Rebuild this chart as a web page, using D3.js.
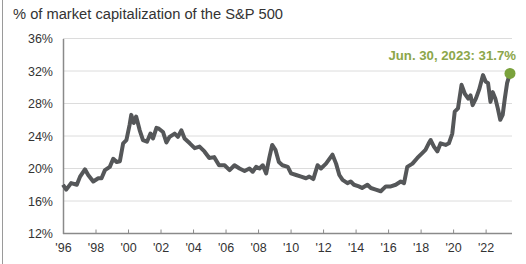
<!DOCTYPE html>
<html>
<head>
<meta charset="utf-8">
<script src="https://cdn.jsdelivr.net/npm/d3@7"></script>
<style>
  body { margin: 0; background: #fff; }
  svg { display: block; font-family: "Liberation Sans", Arial, sans-serif; }
</style>
</head>
<body>
<div id="chart"></div>
<script>
// share of S&P 500 market cap (year as decimal)
var years = [1996.0, 1996.2, 1996.5, 1996.85, 1997.05, 1997.35, 1997.55, 1997.86, 1998.17, 1998.37,
  1998.58, 1998.88, 1999.09, 1999.3, 1999.5, 1999.7, 1999.9, 2000.1, 2000.2, 2000.35,
  2000.5, 2000.72, 2000.92, 2001.17, 2001.38, 2001.54, 2001.75, 2001.9, 2002.15, 2002.36,
  2002.56, 2002.87, 2003.07, 2003.28, 2003.48, 2003.8, 2004.1, 2004.4, 2004.7, 2005.0,
  2005.3, 2005.6, 2005.94, 2006.25, 2006.55, 2006.86, 2007.17, 2007.47, 2007.67, 2007.88,
  2008.09, 2008.29, 2008.5, 2008.7, 2008.87, 2009.07, 2009.28, 2009.5, 2009.83, 2010.03,
  2010.34, 2010.65, 2010.95, 2011.15, 2011.4, 2011.66, 2011.87, 2012.18, 2012.58, 2012.8,
  2013.0, 2013.2, 2013.5, 2013.7, 2013.9, 2014.2, 2014.4, 2014.73, 2014.94, 2015.24,
  2015.55, 2015.86, 2016.17, 2016.47, 2016.78, 2016.98, 2017.18, 2017.5, 2017.8, 2018.1,
  2018.3, 2018.5, 2018.62, 2018.82, 2019.03, 2019.23, 2019.54, 2019.74, 2019.95, 2020.1,
  2020.3, 2020.52, 2020.72, 2020.93, 2021.07, 2021.2, 2021.4, 2021.6, 2021.84, 2022.0,
  2022.15, 2022.3, 2022.44, 2022.6, 2022.75, 2022.9, 2023.05, 2023.18, 2023.32, 2023.5];
var shares = [18.0, 17.4, 18.2, 18.0, 19.0, 19.9, 19.2, 18.4, 18.8, 18.8,
  19.8, 20.2, 21.2, 20.8, 20.9, 23.1, 23.5, 25.4, 26.6, 25.6,
  26.4, 24.7, 23.5, 23.3, 24.3, 23.7, 25.0, 24.9, 24.5, 23.2,
  23.9, 24.3, 23.9, 24.7, 23.7, 23.1, 22.5, 22.7, 22.1, 21.3,
  21.4, 20.4, 20.4, 19.8, 20.4, 20.0, 19.7, 20.0, 19.6, 20.2,
  20.0, 20.4, 19.4, 21.4, 22.9, 22.3, 20.8, 20.4, 20.2, 19.4,
  19.2, 19.0, 18.8, 19.0, 18.7, 20.4, 20.0, 20.6, 21.7, 20.6,
  19.2, 18.6, 18.2, 18.4, 18.0, 17.8, 17.6, 18.0, 17.6, 17.4,
  17.2, 17.8, 17.8, 18.0, 18.4, 18.2, 20.2, 20.6, 21.3, 21.9,
  22.3, 23.1, 23.5, 22.7, 22.1, 23.1, 22.9, 23.1, 24.3, 27.0,
  27.4, 30.3, 29.2, 28.6, 29.0, 27.8, 28.6, 29.7, 31.5, 30.7,
  30.5, 28.2, 29.4, 28.6, 27.4, 26.0, 26.6, 28.6, 30.5, 31.7];
var yTicks = [12, 16, 20, 24, 28, 32, 36];
var xTicks = [1996, 1998, 2000, 2002, 2004, 2006, 2008, 2010, 2012, 2014, 2016, 2018, 2020, 2022];
var lastLabel = "Jun. 30, 2023: 31.7%";

var width = 526, height = 264;
var svg = d3.select("#chart").append("svg")
  .attr("width", width)
  .attr("height", height);

// frame edge on the left
svg.append("line")
  .attr("x1", 2.5).attr("x2", 2.5)
  .attr("y1", 0).attr("y2", height)
  .attr("stroke", "#9a9a9a").attr("stroke-width", 1);

svg.append("text")
  .attr("x", 13).attr("y", 19)
  .style("font-size", "14.7px")
  .attr("fill", "#333")
  .text("% of market capitalization of the S&P 500");

var x = d3.scaleLinear().domain([1996, 2023.5]).range([63, 510]);
var y = d3.scaleLinear().domain([12, 36]).range([233.5, 38.5]);

// gridlines
svg.append("g").selectAll("line")
  .data(yTicks.filter(function(d){ return d > 12; }))
  .enter().append("line")
  .attr("x1", 63).attr("x2", 512)
  .attr("y1", function(d){ return y(d); })
  .attr("y2", function(d){ return y(d); })
  .attr("stroke", "#dcdcdc").attr("stroke-width", 1);

// y axis
var yAxis = svg.append("g")
  .attr("transform", "translate(63,0)")
  .call(d3.axisLeft(y).tickValues(yTicks).tickSize(0).tickPadding(10)
    .tickFormat(function(d){ return d + "%"; }));
yAxis.select(".domain").attr("stroke", "#8a8a8a").attr("stroke-width", 1.5);
yAxis.selectAll("text").style("font-size", "12.5px").attr("fill", "#333")
  .style("font-family", "'Liberation Sans', Arial, sans-serif");

// x axis, ticks point up
var xAxis = svg.append("g")
  .attr("transform", "translate(0,233.5)")
  .call(d3.axisBottom(x).tickValues(xTicks).tickSize(-4).tickPadding(10)
    .tickFormat(function(d){ return "'" + String(d).slice(2); }));
xAxis.select(".domain").attr("stroke", "#8a8a8a").attr("stroke-width", 1.5)
  .attr("d", "M63,0H512");
xAxis.selectAll(".tick line").attr("stroke", "#8a8a8a");
xAxis.selectAll("text").style("font-size", "12.5px").attr("fill", "#333")
  .style("font-family", "'Liberation Sans', Arial, sans-serif");

var line = d3.line()
  .x(function(d, i){ return x(years[i]); })
  .y(function(d){ return y(d); })
  .curve(d3.curveLinear);

svg.append("path")
  .datum(shares)
  .attr("d", line)
  .attr("fill", "none")
  .attr("stroke", "#555759")
  .attr("stroke-width", 4)
  .attr("stroke-linejoin", "round");

var n = shares.length - 1;
svg.append("circle")
  .attr("cx", x(years[n])).attr("cy", y(shares[n]))
  .attr("r", 5.5)
  .attr("fill", "#7aa23c");

svg.append("text")
  .attr("x", 516).attr("y", 60)
  .attr("text-anchor", "end")
  .style("font-size", "13.2px")
  .style("font-weight", "bold")
  .attr("fill", "#8ca64a")
  .text(lastLabel);
</script>
</body>
</html>
